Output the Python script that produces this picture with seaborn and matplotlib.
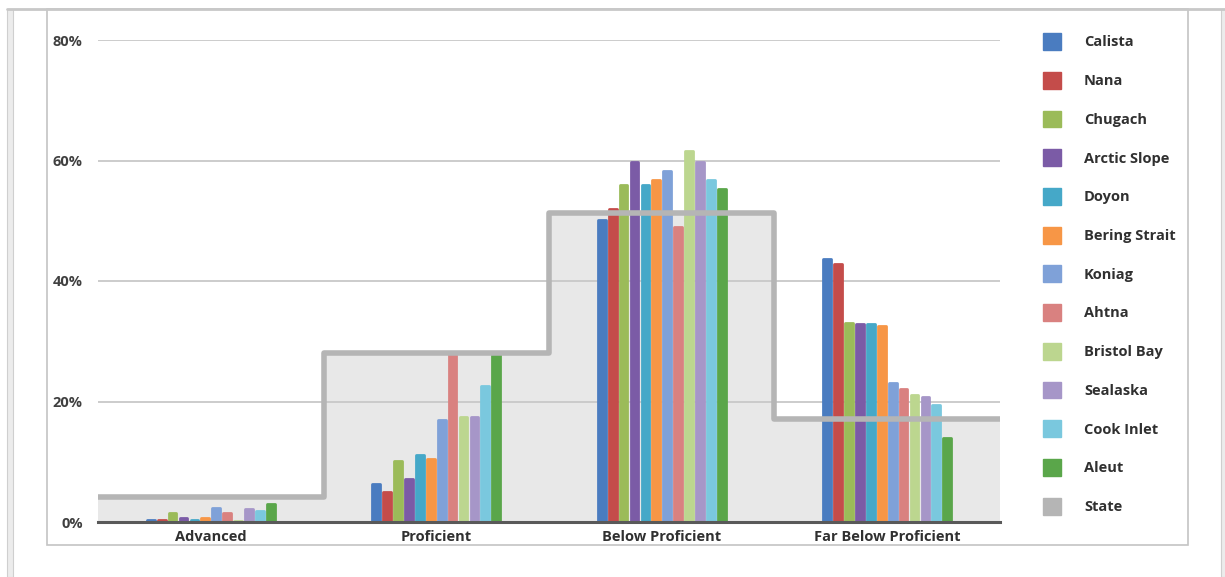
import pandas as pd
import matplotlib.pyplot as plt
from matplotlib.patches import Patch, Rectangle
from matplotlib.lines import Line2D
import seaborn as sns

levels = ['Advanced', 'Proficient', 'Below Proficient', 'Far Below Proficient']
corps = ['Calista', 'Nana', 'Chugach', 'Arctic Slope', 'Doyon', 'Bering Strait',
         'Koniag', 'Ahtna', 'Bristol Bay', 'Sealaska', 'Cook Inlet', 'Aleut']
colors = ['#4a7cc0', '#c44c4a', '#9bbb59', '#7b5ba6', '#45a8c8', '#f79646',
          '#7fa1d8', '#d98180', '#bcd68f', '#a696c8', '#7ac8de', '#5aa64a']

advanced = [0.4, 0.4, 1.5, 0.7, 0.4, 0.6, 2.4, 1.5, 0.2, 2.1, 1.9, 3.0]
proficient = [6.3, 5.0, 10.1, 7.1, 11.2, 10.4, 16.9, 28.0, 17.4, 17.4, 22.5, 28.0]
below_proficient = [50.2, 52.0, 55.9, 59.8, 55.9, 56.8, 58.3, 48.9, 61.5, 59.8, 56.8, 55.3]
far_below = [43.7, 42.9, 33.1, 32.8, 32.8, 32.5, 23.0, 22.1, 21.0, 20.7, 19.5, 13.9]

state = [4.1, 28.0, 51.3, 17.1]
state_color = '#b5b5b5'


def main():
    rows = []
    for level, vals in zip(levels, [advanced, proficient, below_proficient, far_below]):
        for corp, v in zip(corps, vals):
            rows.append({'level': level, 'corp': corp, 'value': v})
    df = pd.DataFrame(rows)

    sns.set_style('white')
    plt.rcParams['font.family'] = ['Open Sans', 'DejaVu Sans']

    fig = plt.figure(figsize=(12.25, 5.77), dpi=100)
    ax = fig.add_axes([98 / 1225, 55 / 577, 902 / 1225, 482 / 577])

    sns.barplot(data=df, x='level', y='value', hue='corp', palette=colors,
                hue_order=corps, order=levels, width=0.58, gap=0.3,
                saturation=1, legend=False, ax=ax, zorder=2)
    for p in ax.patches:
        p.set_edgecolor(p.get_facecolor())
        p.set_linewidth(2)
        p.set_joinstyle('round')

    # state as a filled step
    edges = [-0.5, 0.5, 1.5, 2.5, 3.5]
    ax.stairs(state, edges, baseline=0, fill=True, color='#e8e8e8', zorder=0.2)
    ax.stairs(state, edges, baseline=None, color=state_color, linewidth=4,
              zorder=3, joinstyle='round')

    ax.set_xlim(-0.5, 3.5)
    ax.set_ylim(0, 80)
    ax.set_yticks([0, 20, 40, 60, 80])
    ax.set_yticklabels([f'{t}%' for t in [0, 20, 40, 60, 80]])
    ax.set_axisbelow(True)
    ax.yaxis.grid(True, color='#c8c8c8', linewidth=1.3)
    ax.xaxis.grid(False)
    ax.set_xlabel('')
    ax.set_ylabel('')
    for s in ['top', 'right', 'left']:
        ax.spines[s].set_visible(False)
    ax.spines['bottom'].set_color('#595959')
    ax.spines['bottom'].set_linewidth(2.2)
    ax.spines['bottom'].set_zorder(4)
    ax.tick_params(axis='y', length=0, pad=11, labelsize=10.5, labelcolor='#404040')
    ax.tick_params(axis='x', length=0, pad=6, labelsize=10.5, labelcolor='#303030')
    for lab in ax.get_xticklabels() + ax.get_yticklabels():
        lab.set_fontweight('bold')

    handles = [Patch(facecolor=c, edgecolor=c) for c in colors + [state_color]]
    leg = fig.legend(handles, corps + ['State'], loc='upper left',
                     bbox_to_anchor=(1030 / 1225, 1 - 20 / 577), frameon=False,
                     fontsize=10.5, handlelength=1.25, handleheight=1.4,
                     labelspacing=1.5, handletextpad=1.55)
    for t in leg.get_texts():
        t.set_color('#303030')
        t.set_fontweight('bold')

    # page frame
    fig.add_artist(Rectangle((47 / 1225, 32 / 577), 1141 / 1225, 536 / 577,
                             transform=fig.transFigure, fill=False,
                             edgecolor='#c4c4c4', linewidth=1.2))
    fig.add_artist(Line2D([7 / 1225, 1], [1 - 9 / 577, 1 - 9 / 577],
                          transform=fig.transFigure, color='#c8c8c8', linewidth=2))
    fig.add_artist(Rectangle((7 / 1225, 0), 6 / 1225, 1 - 9 / 577,
                             transform=fig.transFigure, facecolor='#ececec',
                             edgecolor='#cfcfcf', linewidth=0.8))
    fig.add_artist(Rectangle((1221 / 1225, 0), 5 / 1225, 1 - 9 / 577,
                             transform=fig.transFigure, facecolor='#ececec',
                             edgecolor='#cfcfcf', linewidth=0.8))

    fig.savefig('out.png', dpi=100)


if __name__ == "__main__":
    main()
